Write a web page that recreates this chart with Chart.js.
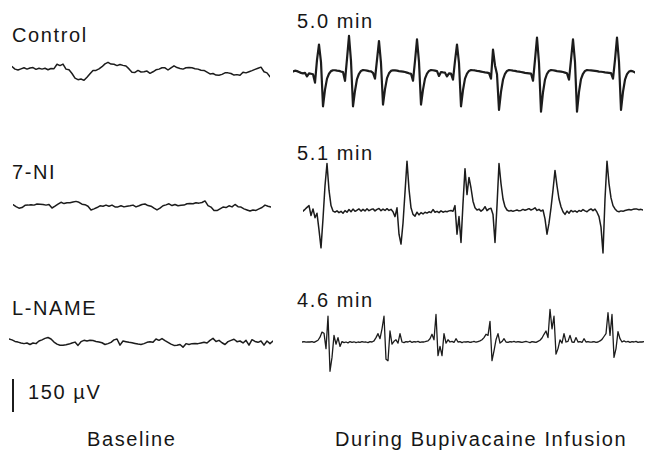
<!DOCTYPE html>
<html>
<head>
<meta charset="utf-8">
<script src="https://cdn.jsdelivr.net/npm/chart.js@4.4.1/dist/chart.umd.min.js"></script>
<style>
  html, body { margin: 0; padding: 0; background: #fff; }
  #fig {
    position: relative; width: 645px; height: 453px; overflow: hidden;
    font-family: 'Liberation Sans', Arial, Helvetica, sans-serif; color: #161616;
  }
  .lbl { position: absolute; font-size: 20px; line-height: 20px; letter-spacing: 1.6px; white-space: nowrap; }
  canvas { position: absolute; }
  #bar { position: absolute; left: 12px; top: 379px; width: 2px; background: #1c1c1c; }
</style>
</head>
<body>
<div id="fig">
  <div id="bar"></div>
</div>
<script>
// traces in microvolts, one sample every 3 px (baseline) or 2 px (infusion)
var controlBaseline = [16, 4, 0, 5, 10, 4, 9, 11, 3, 8, 4, 8, 1, 7, 6, 26, 20, 27, 4, 1,
  -16, -37, -44, -41, -47, -33, -17, -2, -2, 5, 15, 28, 35, 27, 26, 20, 25, 21, 18, 5,
  -10, -11, -2, -9, -8, -5, -15, -8, 1, 4, 10, 10, 0, 10, 19, 11, 7, 4, 10, 11,
  10, 6, 4, -1, -2, -10, -18, -16, -23, -24, -20, -13, -13, -16, -23, -21, -24, -10, -13, -8,
  -3, 3, 8, 13, -8, -13, -31];

var niBaseline = [6, -3, -10, -7, 3, 4, 6, 4, 9, 8, 7, 4, 7, -9, -1, 8, 17, 11, 15, 15,
  18, 21, 17, 8, 6, -1, -18, -13, -7, 1, -1, 4, -1, 4, -4, -4, 1, -4, -1, 1,
  4, -4, 1, 7, 9, 2, -1, -10, -18, -10, 1, 5, 10, 2, 7, 1, 3, 4, 10, 11,
  10, 15, 13, 16, 23, 2, -5, -20, -21, -13, -5, -7, 1, -4, 7, -3, -5, -13, -18, -23,
  -18, -20, -13, -7, 4, -1, -5];

var lnameBaseline = [9, 5, -2, -5, -9, -12, -9, -16, -9, -12, 0, 5, 12, 16, 9, -5, -14, -19, -19, -17,
  -14, -9, -5, -20, -3, 3, 0, 3, 2, -2, -5, -8, -16, -12, -6, 5, 9, -19, 0, -3,
  -6, -8, -11, -14, -16, -12, -6, -3, -6, 9, 3, 11, 2, -6, -14, -20, -19, -16, -28, -12,
  -16, -12, -11, -12, -9, -6, -9, 3, 12, -2, 3, -8, -16, -3, 3, 8, -3, 0, -9, 3,
  -19, 6, -2, -6, 0, -19, 0, -12, 0];

var controlBupi = [2, 6, 4, 0, -4, -6, -4, -20, -6, -8,
  -10, -48, 55, 125, 45, -156, -80, -30, -8, 4,
  8, 8, 6, 5, 2, 0, -40, 60, 164, 50,
  -156, -85, -32, -8, 5, 9, 8, 6, 4, 3,
  -4, -30, 55, 141, 40, -148, -78, -28, -6, 5,
  8, 7, 6, 4, 3, 2, 0, -3, -6, -8,
  -40, 50, 148, 45, -148, -80, -30, -7, 5, 9,
  8, 6, 4, -18, 0, -2, -3, -20, -6, -7,
  -35, 50, 125, 40, -156, -82, -30, -7, 5, 9,
  8, 7, 5, 4, 2, 0, -2, -3, -5, -30,
  102, 30, -10, -172, -90, -35, -8, 5, 9, 8,
  6, 5, 3, 2, 0, -2, -4, -5, -6, -7,
  -40, 55, 156, 40, -180, -92, -35, -8, 5, 9,
  8, 6, 4, 3, 2, 0, -3, -6, -35, 55,
  148, 45, -180, -90, -32, -8, 5, 9, 8, 7,
  6, 5, 4, 2, 1, 0, -2, -3, -4, -5,
  -30, 55, 156, 45, -172, -90, -35, -10, 2, 5,
  3, -2];

var niBupi = [-5, 3, 12, 20, -25, 5, -35, -15, -90, -172,
  -40, 110, 211, 90, 20, -5, -10, -4, -12, -6,
  -15, -3, -10, 2, -8, 4, -6, -1, 5, -5,
  3, -4, 6, -3, 2, 5, -4, 3, 7, -3,
  4, -2, 6, -2, 3, -8, -30, 10, -110, -155,
  -60, 80, 222, 95, 10, -20, -28, -10, -22, -12,
  -18, -10, -14, -8, -12, 2, -10, -6, -12, -4,
  -10, -6, -8, -4, -2, -6, 20, -110, -30, -148,
  30, 188, 70, 148, 100, 40, 10, 0, 4, -5,
  2, 15, -3, 5, 8, -20, -148, 20, 211, 120,
  50, 15, 0, -5, -2, -6, -3, 0, -4, -2,
  3, -1, 2, 6, 0, 4, 10, -2, 3, -5,
  0, -40, -110, -60, 10, 90, 180, 110, 50, 15,
  -8, -20, -5, -15, -2, -8, -4, -10, -2, -6,
  2, -4, -8, 0, 5, -3, 4, -10, -30, -78,
  -195, 50, 222, 120, 55, 20, 5, -5, -8, -4,
  -6, -2, 0, 2, 0, 3, 5, 4, 1, 3,
  0];

var lnameBupi = [0, 2, -1, 1, 0, 2, -2, 3, 8, 22,
  45, 40, -30, 117, -133, -70, 30, -10, 20, -20,
  2, -3, 0, -4, 2, -2, 1, -3, 0, -2,
  2, -1, 0, -3, 2, 0, 5, 20, 38, 15,
  60, 117, -78, -85, 50, -10, 3, 10, -5, 38,
  0, -3, 2, 0, 4, -2, 2, 0, 3, -2,
  1, 0, 3, 5, 15, 35, 10, 125, -62, -20,
  -62, 38, -5, 10, 0, 3, -2, 15, 0, 2,
  -3, 1, 0, 2, -2, 0, 3, -1, 2, 5,
  10, 20, 35, 30, 94, -85, -40, 10, 38, -5,
  2, 15, 0, -2, 2, 0, 3, -1, 2, 0,
  -2, 1, 3, 0, -3, 2, 0, -2, 3, 8,
  18, 35, 50, 20, 148, 60, 117, -55, -30, 10,
  -5, 38, 0, 3, 30, 0, -2, 20, 0, 2,
  -2, 15, 0, 2, -1, 0, 2, -2, 0, 5,
  12, 25, 38, 133, 30, 125, -70, -30, 47, 15,
  0, 5, 0, 3, -2, 2, 0, 3, -2, 1,
  0, 2];

var groups = ['Control', '7-NI', 'L-NAME'];
var infusionTimes = ['5.0 min', '5.1 min', '4.6 min'];
var columnTitles = ['Baseline', 'During Bupivacaine Infusion'];
var scaleBarUV = 150;

var INK = '#1c1c1c';
var PX_PER_UV = 33 / 150;
var TRACE_H = 140;

var fig = document.getElementById('fig');

function addLabel(text, left, top) {
  var d = document.createElement('div');
  d.className = 'lbl';
  d.textContent = text;
  d.style.left = left + 'px';
  d.style.top = top + 'px';
  fig.appendChild(d);
}

var groupTops = [25, 162, 298];
var timeTops = [11, 143, 290];
groups.forEach(function (g, i) { addLabel(g, 12, groupTops[i]); });
infusionTimes.forEach(function (t, i) { addLabel(t, 297, timeTops[i]); });
addLabel(scaleBarUV + ' \u00b5V', 28, 382);
addLabel(columnTitles[0], 87, 429);
addLabel(columnTitles[1], 335, 429);

document.getElementById('bar').style.height = Math.round(scaleBarUV * PX_PER_UV) + 'px';

var layout = [
  { values: controlBaseline, left: 12, width: 258, mid: 70, lw: 1.5 },
  { values: niBaseline, left: 13, width: 258, mid: 206, lw: 1.5 },
  { values: lnameBaseline, left: 9, width: 264, mid: 341, lw: 1.5 },
  { values: controlBupi, left: 293, width: 342, mid: 72, lw: 2.2 },
  { values: niBupi, left: 303, width: 340, mid: 210, lw: 1.5 },
  { values: lnameBupi, left: 302, width: 342, mid: 342, lw: 1.3 }
];

var range = TRACE_H / 2 / PX_PER_UV;

layout.forEach(function (t) {
  var c = document.createElement('canvas');
  c.width = t.width;
  c.height = TRACE_H;
  c.style.left = t.left + 'px';
  c.style.top = (t.mid - TRACE_H / 2) + 'px';
  fig.appendChild(c);

  new Chart(c, {
    type: 'line',
    data: {
      datasets: [{
        data: t.values.map(function (v, i) { return { x: i, y: v }; }),
        borderColor: INK,
        borderWidth: t.lw,
        borderJoinStyle: 'round',
        borderCapStyle: 'round',
        pointRadius: 0,
        tension: 0,
        fill: false
      }]
    },
    options: {
      responsive: false,
      animation: false,
      events: [],
      layout: { padding: 0 },
      plugins: { legend: { display: false }, tooltip: { enabled: false } },
      scales: {
        x: { type: 'linear', display: false, min: 0, max: t.values.length - 1 },
        y: { display: false, min: -range, max: range }
      }
    }
  });
});
</script>
</body>
</html>
